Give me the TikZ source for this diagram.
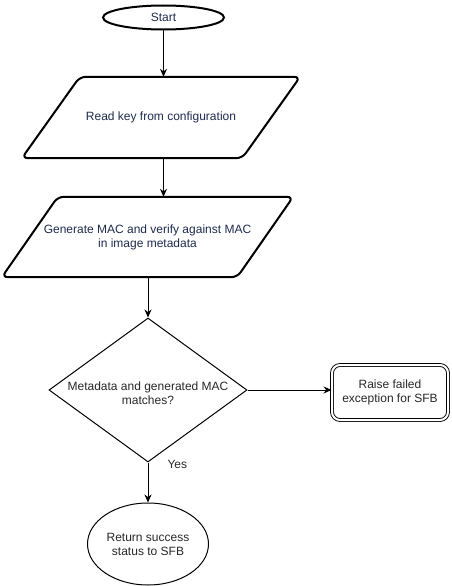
\documentclass[tikz,border=0pt]{standalone}
\usepackage{fontspec}
\setmainfont{Liberation Sans}
\usetikzlibrary{shapes.geometric,arrows.meta}
\definecolor{navy}{RGB}{30,44,78}
\definecolor{dgray}{RGB}{40,40,40}
\begin{document}
\begin{tikzpicture}[x=1pt,y=-1pt,
  every node/.style={font=\fontsize{12}{14}\selectfont},
  txtnavy/.style={text=navy,align=center,inner sep=0},
  txtgray/.style={text=dgray,align=center,inner sep=0},
  thickline/.style={line width=2pt},
  arr/.style={line width=1pt,-{Stealth[length=8pt,width=7pt]}},
  box/.style={rectangle,inner sep=0}]
\useasboundingbox (0,0) rectangle (451,586);
\fill[white] (0,0) rectangle (451,586);

% Start
\node[ellipse,draw,thickline,minimum width=121,minimum height=24,inner sep=0,txtnavy] (start) at (163.5,17.5) {Start};

% Parallelogram 1
\node[box,minimum width=278,minimum height=81,txtnavy] (p1) at (161,117.5) {Read key from configuration};
\draw[thickline,rounded corners=6pt] (p1.south west) -- ([xshift=-58pt]p1.south east) -- (p1.north east) -- ([xshift=58pt]p1.north west) -- cycle;

% Parallelogram 2
\node[box,minimum width=291,minimum height=80,txtnavy] (p2) at (147.5,237) {Generate MAC and verify against MAC\\in image metadata};
\draw[thickline,rounded corners=6pt] (p2.south west) -- ([xshift=-56pt]p2.south east) -- (p2.north east) -- ([xshift=56pt]p2.north west) -- cycle;

% Decision
\node[diamond,draw,line width=1pt,minimum width=198,minimum height=144,inner sep=0] (dia) at (148,390) {};
\node[txtgray] (diatxt) at (148,393) {Metadata and generated MAC\\matches?};

% Raise box
\node[rectangle,draw,line width=0.9pt,double,double distance=2pt,rounded corners=8pt,minimum width=116,minimum height=55,inner sep=0,txtgray] (rb) at (390,392.5) {Raise failed\\exception for SFB};

% Return ellipse
\node[ellipse,draw,line width=1pt,minimum width=121,minimum height=82,inner sep=0,txtgray] (ret) at (148,544) {Return success\\status to SFB};

% Connectors
\draw[arr] (start.south) -- (start.south |- p1.north);
\draw[arr] (p1.south -| start.south) -- (start.south |- p2.north);
\draw[arr] (p2.south -| dia.north) -- (dia.north);
\draw[arr] (dia.east) -- (dia.east -| rb.west);
\draw[arr] (dia.south) -- node[pos=0.05,right=19pt,txtgray] (yes) {Yes} (ret.north);
\end{tikzpicture}
\end{document}
